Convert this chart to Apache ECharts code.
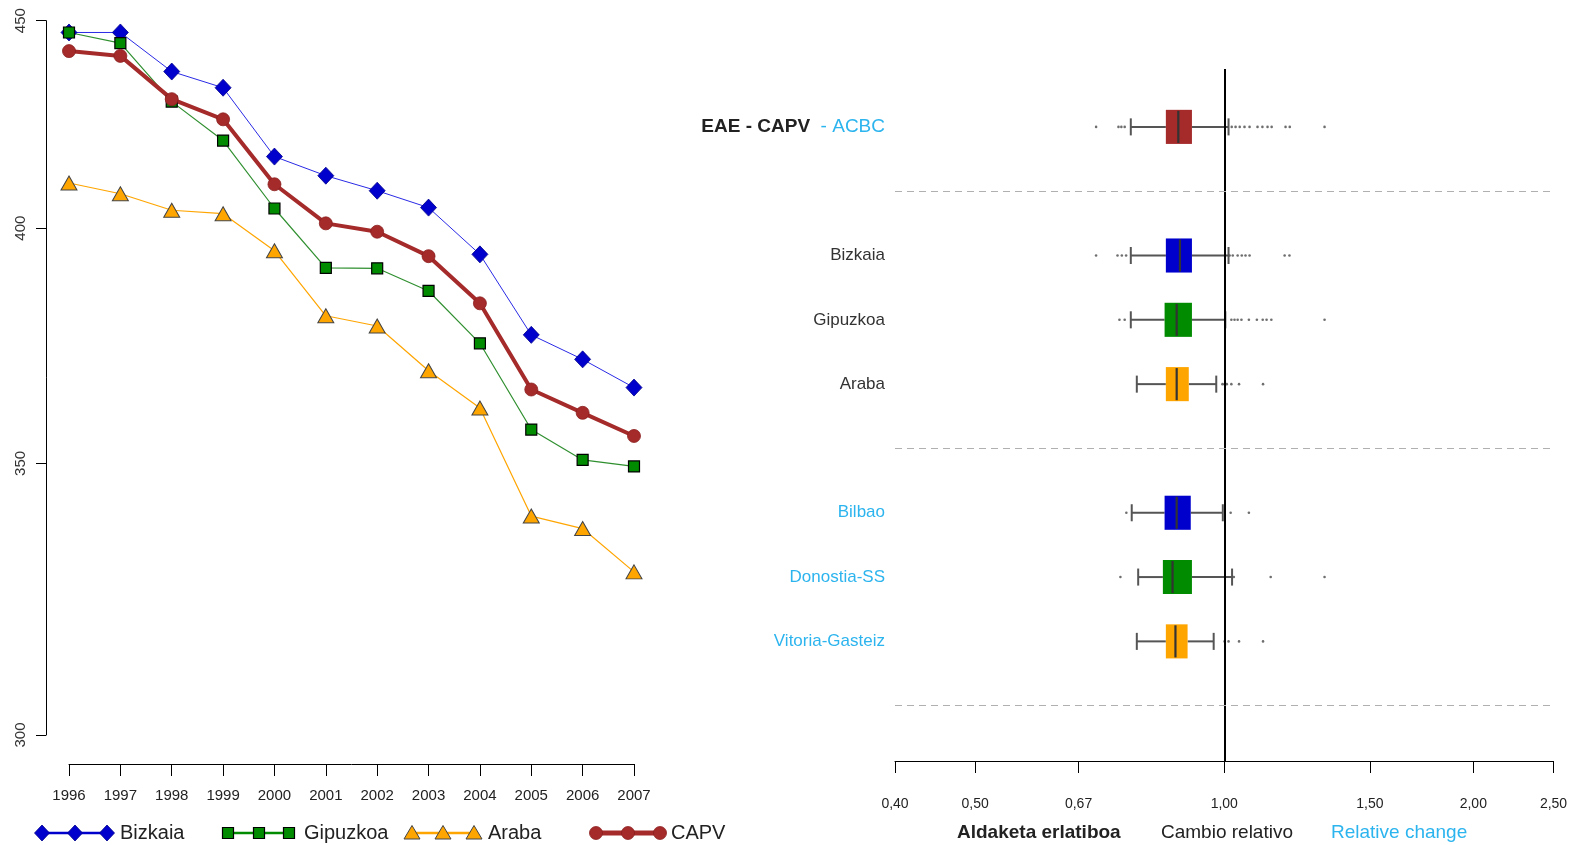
<!DOCTYPE html>
<html>
<head>
<meta charset="utf-8">
<script src="https://cdn.jsdelivr.net/npm/echarts@6/dist/echarts.min.js"></script>
<style>
  html, body { margin: 0; padding: 0; background: #fff; }
  #chart { width: 1587px; height: 845px; }
</style>
</head>
<body>
<div id="chart"></div>
<script>
// ---- Left panel: yearly series (log scale) ----
const years = ['1996', '1997', '1998', '1999', '2000', '2001', '2002', '2003', '2004', '2005', '2006', '2007'];
const bizkaia  = [447.0, 447.0, 437.2, 433.2, 416.6, 412.1, 408.6, 404.7, 394.1, 376.5, 371.3, 365.4];
const gipuzkoa = [447.0, 444.3, 429.8, 420.4, 404.5, 391.1, 391.0, 386.0, 374.7, 356.8, 350.7, 349.4];
const araba    = [410.4, 407.9, 404.1, 403.3, 394.9, 380.6, 378.4, 368.9, 361.2, 339.7, 337.3, 329.1];
const capv     = [442.3, 441.1, 430.4, 425.5, 410.1, 401.1, 399.2, 393.7, 383.3, 365.0, 360.2, 355.5];
const yTicks = [300, 350, 400, 450];

// ---- Right panel: relative change distributions ----
const groups = ['EAE - CAPV', 'Bizkaia', 'Gipuzkoa', 'Araba', 'Bilbao', 'Donostia-SS', 'Vitoria-Gasteiz'];
const rowPos = [0, 2, 3, 4, 6, 7, 8];
const separators = [1, 5, 9];
// [lower whisker, Q1, median, Q3, upper whisker]
const boxStats = [
  [0.771, 0.850, 0.880, 0.914, 1.012],
  [0.771, 0.850, 0.884, 0.914, 1.012],
  [0.771, 0.847, 0.876, 0.914, 1.003],
  [0.784, 0.850, 0.876, 0.906, 0.978],
  [0.773, 0.847, 0.876, 0.911, 0.996],
  [0.787, 0.843, 0.866, 0.914, 1.022],
  [0.784, 0.850, 0.873, 0.903, 0.971]
];
const outliers = [
  [0.700, 0.745, 0.751, 0.758, 1.021, 1.032, 1.044, 1.058, 1.073, 1.097, 1.112, 1.128, 1.141, 1.186, 1.200, 1.322],
  [0.700, 0.743, 0.752, 0.761, 1.015, 1.024, 1.038, 1.050, 1.061, 1.073, 1.183, 1.199],
  [0.747, 0.758, 1.020, 1.029, 1.038, 1.049, 1.071, 1.095, 1.113, 1.125, 1.140, 1.322],
  [0.995, 1.001, 1.007, 1.020, 1.042, 1.114],
  [0.7615, 1.018, 1.071],
  [0.749, 1.027, 1.138, 1.322],
  [1.001, 1.012, 1.042, 1.114]
];
const xTicks = [0.4, 0.5, 2 / 3, 1, 1.5, 2, 2.5];

const boxColors = ['#a52a2a', '#0000cd', '#008b00', '#ffa500', '#0000cd', '#008b00', '#ffa500'];
const labelBlue = '#2cb4ee';
const FONT = 'Liberation Sans, Arial, Helvetica, sans-serif';
const BOX_THICK = 0.53;

const boxData = boxStats.map((s, i) => [rowPos[i]].concat(s));
const outlierData = [];
outliers.forEach((arr, i) => arr.forEach(v => outlierData.push([v, rowPos[i]])));

function fmtComma(v) { return v.toFixed(2).replace('.', ','); }

// legend sample drawn as line + three markers
function legendItem(xs, y, kind, color, lineW, text, textX) {
  const children = [{
    type: 'line', shape: { x1: xs[0], y1: y, x2: xs[2], y2: y },
    style: { stroke: color, lineWidth: lineW }
  }];
  xs.forEach(x => {
    if (kind === 'diamond') {
      children.push({ type: 'polygon', shape: { points: [[x, y - 8], [x + 7.5, y], [x, y + 8], [x - 7.5, y]] },
        style: { fill: '#0000cd', stroke: '#00008b', lineWidth: 0.8 } });
    } else if (kind === 'square') {
      children.push({ type: 'rect', shape: { x: x - 5.5, y: y - 5.5, width: 11, height: 11 },
        style: { fill: '#008b00', stroke: '#000', lineWidth: 1.2 } });
    } else if (kind === 'triangle') {
      children.push({ type: 'polygon', shape: { points: [[x, y - 7.5], [x + 8, y + 6], [x - 8, y + 6]] },
        style: { fill: '#ffa500', stroke: '#444', lineWidth: 1 } });
    } else {
      children.push({ type: 'circle', shape: { cx: x, cy: y, r: 6.5 },
        style: { fill: '#a52a2a', stroke: '#8b2020', lineWidth: 0.8 } });
    }
  });
  children.push({ type: 'text', x: textX, y: y, style: { text: text, fill: '#222', font: '20px ' + FONT, textVerticalAlign: 'middle' } });
  return { type: 'group', children: children };
}

const chart = echarts.init(document.getElementById('chart'), null, { renderer: 'canvas' });

const option = {
  animation: false,
  backgroundColor: '#fff',
  grid: [
    { left: 69, right: 953, top: 20.7, bottom: 110 },
    { left: 895, right: 33.5, top: 69, bottom: 84 }
  ],
  xAxis: [
    {
      gridIndex: 0, type: 'category', data: years, boundaryGap: false, offset: 29,
      axisLine: { onZero: false, lineStyle: { color: '#000', width: 1 } },
      axisTick: { alignWithLabel: true, length: 12, lineStyle: { color: '#000' } },
      axisLabel: { color: '#222', fontSize: 15, fontFamily: FONT, margin: 24, interval: 0 },
      splitLine: { show: false }
    },
    {
      gridIndex: 1, type: 'log', min: 0.4, max: 2.5,
      axisLine: { onZero: false, lineStyle: { color: '#000', width: 1 } },
      axisTick: { length: 12, lineStyle: { color: '#000' }, customValues: xTicks },
      axisLabel: { color: '#222', fontSize: 14, fontFamily: FONT, margin: 36, customValues: xTicks, formatter: fmtComma },
      splitLine: { show: false }, minorTick: { show: false }
    }
  ],
  yAxis: [
    {
      gridIndex: 0, type: 'log', min: 300, max: 450, offset: 23,
      axisLine: { show: true, onZero: false, lineStyle: { color: '#000', width: 1 } },
      axisTick: { show: true, length: 10, lineStyle: { color: '#000' }, customValues: yTicks },
      axisLabel: { color: '#333', fontSize: 15, fontFamily: FONT, rotate: 90, margin: 18, customValues: yTicks },
      splitLine: { show: false }
    },
    {
      gridIndex: 1, type: 'value', min: -0.9, max: 9.86, inverse: true,
      axisLine: { show: false, onZero: false }, axisTick: { show: false }, splitLine: { show: false },
      axisLabel: {
        margin: 10, customValues: rowPos,
        formatter: function (v) {
          const i = rowPos.indexOf(v);
          if (i === 0) return '{b|EAE - CAPV}{c|  - ACBC}';
          if (i >= 4) return '{c2|' + groups[i] + '}';
          return '{n|' + groups[i] + '}';
        },
        rich: {
          b: { fontFamily: FONT, fontSize: 19, fontWeight: 'bold', color: '#222' },
          c: { fontFamily: FONT, fontSize: 19, color: labelBlue },
          n: { fontFamily: FONT, fontSize: 17, color: '#333' },
          c2: { fontFamily: FONT, fontSize: 17, color: labelBlue }
        }
      }
    }
  ],
  series: [
    {
      name: 'Bizkaia', type: 'line', xAxisIndex: 0, yAxisIndex: 0, data: bizkaia,
      symbol: 'diamond', symbolSize: [16, 17], clip: false,
      lineStyle: { color: '#2a2ae6', width: 1 },
      itemStyle: { color: '#0000cd', borderColor: '#00008b', borderWidth: 0.8 }
    },
    {
      name: 'Gipuzkoa', type: 'line', xAxisIndex: 0, yAxisIndex: 0, data: gipuzkoa,
      symbol: 'rect', symbolSize: 11, clip: false,
      lineStyle: { color: '#2f8f2f', width: 1.2 },
      itemStyle: { color: '#008b00', borderColor: '#000', borderWidth: 1.2 }
    },
    {
      name: 'Araba', type: 'line', xAxisIndex: 0, yAxisIndex: 0, data: araba,
      symbol: 'triangle', symbolSize: [16, 14], clip: false,
      lineStyle: { color: '#ffa500', width: 1.2 },
      itemStyle: { color: '#ffa500', borderColor: '#444', borderWidth: 1 }
    },
    {
      name: 'CAPV', type: 'line', xAxisIndex: 0, yAxisIndex: 0, data: capv,
      symbol: 'circle', symbolSize: 13, clip: false,
      lineStyle: { color: '#a52a2a', width: 4 },
      itemStyle: { color: '#a52a2a', borderColor: '#8b2020', borderWidth: 0.8 }
    },
    {
      type: 'custom', xAxisIndex: 1, yAxisIndex: 1, data: boxData,
      encode: { x: [1, 2, 3, 4, 5], y: 0 },
      renderItem: function (params, api) {
        const pos = api.value(0);
        const lo = api.coord([api.value(1), pos]);
        const q1 = api.coord([api.value(2), pos]);
        const md = api.coord([api.value(3), pos]);
        const q3 = api.coord([api.value(4), pos]);
        const hi = api.coord([api.value(5), pos]);
        const top = api.coord([1, pos - BOX_THICK / 2])[1];
        const bot = api.coord([1, pos + BOX_THICK / 2])[1];
        const h = bot - top;
        const cy = lo[1];
        const capTop = cy - h / 4, capBot = cy + h / 4;
        const whisk = { stroke: '#555', lineWidth: 2 };
        return {
          type: 'group',
          children: [
            { type: 'line', shape: { x1: lo[0], y1: cy, x2: q1[0], y2: cy }, style: whisk },
            { type: 'line', shape: { x1: q3[0], y1: cy, x2: hi[0], y2: cy }, style: whisk },
            { type: 'line', shape: { x1: lo[0], y1: capTop, x2: lo[0], y2: capBot }, style: whisk },
            { type: 'line', shape: { x1: hi[0], y1: capTop, x2: hi[0], y2: capBot }, style: whisk },
            { type: 'rect', shape: { x: q1[0], y: top, width: q3[0] - q1[0], height: h },
              style: { fill: boxColors[params.dataIndex], stroke: null } },
            { type: 'line', shape: { x1: md[0], y1: top + 1, x2: md[0], y2: bot - 1 },
              style: { stroke: '#333', lineWidth: 2.2 } }
          ]
        };
      },
      z: 3
    },
    {
      type: 'scatter', xAxisIndex: 1, yAxisIndex: 1, data: outlierData,
      symbol: 'circle', symbolSize: 2.6,
      itemStyle: { color: '#555', opacity: 0.85 },
      z: 4,
      markLine: {
        silent: true, symbol: 'none', label: { show: false },
        data: [
          { xAxis: 1, lineStyle: { color: '#000', width: 2, type: 'solid' } }
        ].concat(separators.map(s => ({ yAxis: s, lineStyle: { color: '#b0b0b0', width: 1, type: [7, 5] } })))
      }
    }
  ],
  graphic: [
    legendItem([42, 75, 107], 833, 'diamond', '#0000cd', 2.5, 'Bizkaia', 120),
    legendItem([228, 259, 289], 833, 'square', '#008b00', 2.5, 'Gipuzkoa', 304),
    legendItem([412, 443, 474], 833, 'triangle', '#ffa500', 2.5, 'Araba', 488),
    legendItem([596, 628, 660], 833, 'circle', '#a52a2a', 5, 'CAPV', 671),
    { type: 'text', x: 957, y: 833, style: { text: 'Aldaketa erlatiboa', fill: '#222', font: 'bold 19px ' + FONT, textVerticalAlign: 'middle' } },
    { type: 'text', x: 1161, y: 833, style: { text: 'Cambio relativo', fill: '#222', font: '19px ' + FONT, textVerticalAlign: 'middle' } },
    { type: 'text', x: 1331, y: 833, style: { text: 'Relative change', fill: labelBlue, font: '19px ' + FONT, textVerticalAlign: 'middle' } }
  ]
};

chart.setOption(option);
</script>
</body>
</html>
